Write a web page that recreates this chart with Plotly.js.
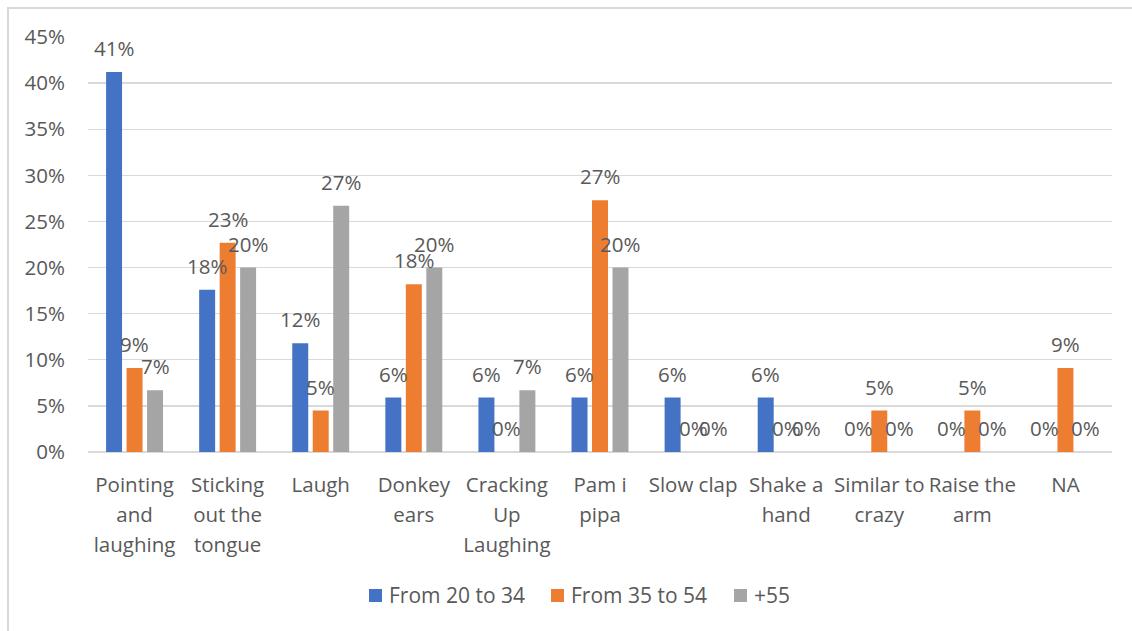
<!DOCTYPE html>
<html>
<head>
<meta charset="utf-8">
<script src="https://cdn.plot.ly/plotly-3.0.1.min.js"></script>
<style>
  html, body { margin: 0; padding: 0; background: #ffffff; }
  #frame { position: absolute; left: 0; top: 0; width: 1132px; height: 631px; }
  #edge {
    position: absolute; left: 7px; top: 7px; right: 0; bottom: 0;
    border-top: 2px solid #d9d9d9; border-left: 2px solid #d9d9d9;
    pointer-events: none;
  }
  #chart { position: absolute; left: 0; top: 0; width: 1132px; height: 631px; }
</style>
</head>
<body>
<div id="frame">
  <div id="chart"></div>
  <div id="edge"></div>
</div>
<script>
// Gesture categories and the share of each age group (percent)
const categories = ["Pointing and laughing", "Sticking out the tongue", "Laugh", "Donkey ears",
  "Cracking Up Laughing", "Pam i pipa", "Slow clap", "Shake a hand", "Similar to crazy",
  "Raise the arm", "NA"];
const tickLines = [["Pointing", "and", "laughing"], ["Sticking", "out the", "tongue"], ["Laugh"],
  ["Donkey", "ears"], ["Cracking", "Up", "Laughing"], ["Pam i", "pipa"], ["Slow clap"],
  ["Shake a", "hand"], ["Similar to", "crazy"], ["Raise the", "arm"], ["NA"]];
const seriesNames = ["From 20 to 34", "From 35 to 54", "+55"];
const age20to34 = [41.2, 17.6, 11.8, 5.9, 5.9, 5.9, 5.9, 5.9, 0, 0, 0];
const age35to54 = [9.1, 22.7, 4.5, 18.2, 0, 27.3, 0, 0, 4.5, 4.5, 9.1];
const age55plus = [6.7, 20.0, 26.7, 20.0, 6.7, 20.0, 0, 0, 0, 0, 0];
const yTicks = [0, 5, 10, 15, 20, 25, 30, 35, 40, 45];

const colors = ["#4472C4", "#ED7D31", "#A5A5A5"];
const textColor = "#595959";
const fontFamily = "'Open Sans', sans-serif";
const textSize = 20.5;
const allSeries = [age20to34, age35to54, age55plus];

const W = 1132, H = 631;
const margin = { l: 88, r: 20, t: 37, b: 179 };
const plotW = W - margin.l - margin.r;
const plotH = H - margin.t - margin.b;
const bargap = 0.34;

const traces = allSeries.map((vals, i) => ({
  type: "bar",
  name: seriesNames[i],
  x: categories,
  y: vals,
  marker: { color: colors[i] },
  showlegend: false,
  hoverinfo: "skip"
}));

// Tick labels: a larger base font sets the line pitch, the spans set the visible size
const tickText = tickLines.map(lines =>
  lines.map(s => `<span style="font-size:${textSize}px">${s}</span>`).join("<br>"));

// Value labels above each bar, shifted sideways onto its bar within the group
const catPx = plotW / categories.length;
const slotPx = catPx * (1 - bargap) / allSeries.length;
const annotations = [];
allSeries.forEach((vals, i) => {
  vals.forEach((v, j) => {
    annotations.push({
      x: categories[j], y: v, xref: "x", yref: "y",
      xshift: (i - 1) * slotPx, yshift: 24,
      yanchor: "middle", xanchor: "center",
      text: Math.round(v) + "%",
      showarrow: false,
      font: { family: fontFamily, size: textSize, color: textColor }
    });
  });
});

// Legend row under the axis: coloured square plus series name
const pxX = px => (px - margin.l) / plotW;
const pxY = py => (H - margin.b - py) / plotH;
const legendStarts = [369, 551, 734];
const shapes = [];
seriesNames.forEach((name, i) => {
  const x0 = legendStarts[i];
  shapes.push({
    type: "rect", xref: "paper", yref: "paper",
    x0: pxX(x0), x1: pxX(x0 + 13), y0: pxY(602), y1: pxY(589),
    fillcolor: colors[i], line: { width: 0 }
  });
  annotations.push({
    xref: "paper", yref: "paper",
    x: pxX(x0 + 18), y: pxY(595),
    xanchor: "left", yanchor: "middle",
    text: name, showarrow: false,
    font: { family: fontFamily, size: 21, color: textColor }
  });
});

const layout = {
  width: W, height: H,
  margin: margin,
  paper_bgcolor: "rgba(0,0,0,0)",
  plot_bgcolor: "#ffffff",
  barmode: "group",
  bargap: bargap,
  bargroupgap: 0.22,
  font: { family: fontFamily, size: textSize, color: textColor },
  showlegend: false,
  xaxis: {
    type: "category",
    tickvals: categories,
    ticktext: tickText,
    ticks: "",
    showgrid: false,
    showline: false,
    zeroline: false,
    tickangle: 0,
    ticklabelstandoff: 16,
    tickfont: { family: fontFamily, size: 23, color: textColor },
    fixedrange: true
  },
  yaxis: {
    range: [0, 45],
    tickvals: yTicks,
    ticktext: yTicks.map(t => t + "%"),
    showgrid: true,
    gridcolor: "#d9d9d9",
    gridwidth: 1.3,
    zeroline: true,
    zerolinecolor: "#d9d9d9",
    zerolinewidth: 1.3,
    showline: false,
    ticks: "",
    ticklabelstandoff: 22,
    tickfont: { family: fontFamily, size: textSize, color: textColor },
    fixedrange: true
  },
  shapes: shapes,
  annotations: annotations
};

Plotly.newPlot("chart", traces, layout, { displayModeBar: false, staticPlot: true });
</script>
</body>
</html>
